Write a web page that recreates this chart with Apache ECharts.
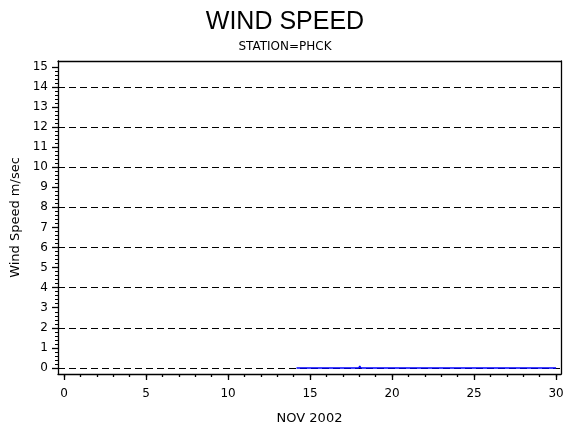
<!DOCTYPE html>
<html>
<head>
<meta charset="utf-8">
<script src="https://cdn.jsdelivr.net/npm/echarts@6/dist/echarts.min.js"></script>
<style>html,body{margin:0;padding:0;background:#fff;}#c{width:570px;height:430px;}</style>
</head>
<body>
<div id="c"></div>
<script>
// Data (day of November 2002, wind speed m/s)
const days = [14.17, 17.97, 18.03, 18.09, 30];
const speeds = [0, 0, 0.1, 0, 0];
// Tick labels
const xTickLabels = [0, 5, 10, 15, 20, 25, 30];
const xMinorTicks = Array.from({length: 31}, (_, i) => i);
const yTickLabels = [0,1,2,3,4,5,6,7,8,9,10,11,12,13,14,15];
const yMinorTicks = Array.from({length: 76}, (_, i) => +(i * 0.2).toFixed(1));
const yGridValues = [0, 2, 4, 6, 8, 10, 12, 14];

const FONT = 'DejaVu Sans';
const chart = echarts.init(document.getElementById('c'));
const xRange = {min: -0.37, max: 30.3};
const yRange = {min: -0.3, max: 15.29};
const lineBlack = {show: true, onZero: false, lineStyle: {color: '#000', width: 1.3}};
const noLine = {show: false, onZero: false};

chart.setOption({
  animation: false,
  backgroundColor: '#fff',
  title: [
    {text: 'WIND SPEED', left: 'center', top: 5,
     textStyle: {fontFamily: 'Liberation Sans', fontSize: 25, fontWeight: 'normal', color: '#000'}},
    {text: 'STATION=PHCK', left: 'center', top: 36,
     textStyle: {fontFamily: FONT, fontSize: 12, fontWeight: 'normal', color: '#000'}}
  ],
  grid: {left: 58, right: 9, top: 61, bottom: 56, containLabel: false},
  xAxis: [
    {type: 'value', position: 'bottom', ...xRange,
     axisLine: lineBlack,
     axisTick: {show: true, length: 6, customValues: xTickLabels, lineStyle: {color: '#000', width: 1.3}},
     axisLabel: {show: true, customValues: xTickLabels, margin: 14, color: '#000', fontFamily: FONT, fontSize: 12},
     splitLine: {show: false},
     name: 'NOV 2002', nameLocation: 'middle', nameGap: 38,
     nameTextStyle: {fontFamily: FONT, fontSize: 13, color: '#000'}},
    {type: 'value', position: 'bottom', ...xRange,
     axisLine: noLine,
     axisTick: {show: true, length: 3, customValues: xMinorTicks, lineStyle: {color: '#000', width: 1.3}},
     axisLabel: {show: false}, splitLine: {show: false}},
    {type: 'value', position: 'top', ...xRange,
     axisLine: lineBlack, axisTick: {show: false}, axisLabel: {show: false}, splitLine: {show: false}}
  ],
  yAxis: [
    {type: 'value', position: 'left', ...yRange,
     axisLine: lineBlack,
     axisTick: {show: true, length: 6, customValues: yTickLabels, lineStyle: {color: '#000', width: 1.3}},
     axisLabel: {show: true, customValues: yTickLabels, margin: 10, color: '#000', fontFamily: FONT, fontSize: 12},
     splitLine: {show: false},
     name: 'Wind Speed m/sec', nameLocation: 'middle', nameGap: 36,
     nameTextStyle: {fontFamily: FONT, fontSize: 13, color: '#000'}},
    {type: 'value', position: 'left', ...yRange,
     axisLine: noLine,
     axisTick: {show: true, length: 3, customValues: yMinorTicks, lineStyle: {color: '#000', width: 1}},
     axisLabel: {show: false}, splitLine: {show: false}},
    {type: 'value', position: 'right', ...yRange,
     axisLine: lineBlack, axisTick: {show: false}, axisLabel: {show: false}, splitLine: {show: false}}
  ],
  series: [
    {type: 'line', name: 'grid', data: [], xAxisIndex: 0, yAxisIndex: 0, z: 1,
     markLine: {silent: true, symbol: ['none', 'none'], label: {show: false},
       lineStyle: {color: '#000', type: [7, 4], width: 1.2},
       data: yGridValues.map(v => ({yAxis: v}))}},
    {type: 'line', name: 'Wind Speed', xAxisIndex: 0, yAxisIndex: 0, z: 5,
     data: days.map((d, i) => [d, speeds[i]]),
     showSymbol: false, symbol: 'none',
     lineStyle: {color: '#0000ff', width: 1.5}}
  ]
});
</script>
</body>
</html>
